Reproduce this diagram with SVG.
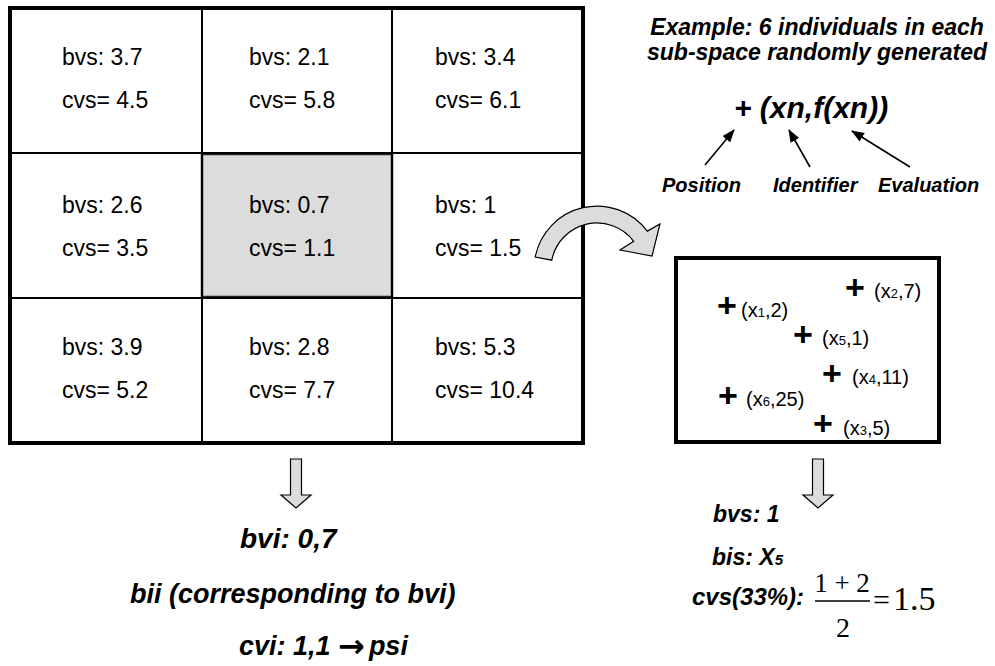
<svg xmlns="http://www.w3.org/2000/svg" width="995" height="666" viewBox="0 0 995 666">
<style>
.cell{font-family:"Liberation Sans",Arial,sans-serif;font-size:23px;fill:#000}
.bi{font-family:"Liberation Sans",Arial,sans-serif;font-weight:bold;font-style:italic;fill:#000}
.pt{font-family:"Liberation Sans",Arial,sans-serif;font-size:20px;fill:#000}
.sub{font-size:13px}
.plus{font-family:"Liberation Sans",Arial,sans-serif;font-size:34px;font-weight:bold;text-anchor:middle;fill:#000}
.math{font-family:"Liberation Serif","Times New Roman",serif;fill:#000}
.blk{fill:#dcdcdc;stroke:#000;stroke-width:1.2;stroke-linejoin:miter}
.gl{stroke:#000;stroke-width:2;fill:none}
.ptr{stroke:#000;stroke-width:1.6;marker-end:url(#ah)}
</style>
<defs>
<marker id="ah" markerWidth="13" markerHeight="10" refX="12" refY="5" orient="auto" markerUnits="userSpaceOnUse"><path d="M0,0 L13,5 L0,10 Z" fill="#000"/></marker>
</defs>
<rect width="995" height="666" fill="#fff"/>

<g id="grid">
<rect x="202" y="154" width="190" height="143" fill="#dcdcdc" stroke="#222" stroke-width="2.5"/>
<line class="gl" x1="202" y1="8" x2="202" y2="443"/>
<line class="gl" x1="392" y1="8" x2="392" y2="443"/>
<line class="gl" x1="10" y1="153" x2="583" y2="153"/>
<line class="gl" x1="10" y1="298" x2="583" y2="298"/>
<rect x="10" y="8" width="573" height="435" fill="none" stroke="#000" stroke-width="4"/>
</g>

<g id="cell-1-1"><text class="cell" x="62" y="65">bvs: 3.7</text><text class="cell" x="62" y="108">cvs= 4.5</text></g>
<g id="cell-1-2"><text class="cell" x="249" y="65">bvs: 2.1</text><text class="cell" x="249" y="108">cvs= 5.8</text></g>
<g id="cell-1-3"><text class="cell" x="435" y="65">bvs: 3.4</text><text class="cell" x="435" y="108">cvs= 6.1</text></g>
<g id="cell-2-1"><text class="cell" x="62" y="213">bvs: 2.6</text><text class="cell" x="62" y="256">cvs= 3.5</text></g>
<g id="cell-2-2"><text class="cell" x="249" y="213">bvs: 0.7</text><text class="cell" x="249" y="256">cvs= 1.1</text></g>
<g id="cell-2-3"><text class="cell" x="435" y="213">bvs: 1</text><text class="cell" x="435" y="256">cvs= 1.5</text></g>
<g id="cell-3-1"><text class="cell" x="62" y="355">bvs: 3.9</text><text class="cell" x="62" y="398">cvs= 5.2</text></g>
<g id="cell-3-2"><text class="cell" x="249" y="355">bvs: 2.8</text><text class="cell" x="249" y="398">cvs= 7.7</text></g>
<g id="cell-3-3"><text class="cell" x="435" y="355">bvs: 5.3</text><text class="cell" x="435" y="398">cvs= 10.4</text></g>

<g id="header">
<text class="bi" font-size="23" text-anchor="middle" x="817" y="35">Example: 6 individuals in each</text>
<text class="bi" font-size="23" text-anchor="middle" x="817" y="60">sub-space randomly generated</text>
<text class="bi" font-size="30" x="734" y="118">+ (xn,f(xn))</text>
</g>

<g id="labels">
<text class="bi" font-size="20" x="662" y="192">Position</text>
<text class="bi" font-size="20" x="773" y="192">Identifier</text>
<text class="bi" font-size="20" x="878" y="192">Evaluation</text>
</g>

<g id="subspace">
<rect x="676" y="258" width="263" height="184" fill="#fff" stroke="#000" stroke-width="4"/>
<g id="ind-1"><text class="plus" x="727" y="317">+</text><text class="pt" x="741" y="317">(x<tspan class="sub">1</tspan>,2)</text></g>
<g id="ind-2"><text class="plus" x="855" y="299">+</text><text class="pt" x="874" y="298">(x<tspan class="sub">2</tspan>,7)</text></g>
<g id="ind-5"><text class="plus" x="803" y="346">+</text><text class="pt" x="822" y="345">(x<tspan class="sub">5</tspan>,1)</text></g>
<g id="ind-4"><text class="plus" x="832" y="385">+</text><text class="pt" x="852" y="384">(x<tspan class="sub">4</tspan>,11)</text></g>
<g id="ind-6"><text class="plus" x="728" y="407">+</text><text class="pt" x="746" y="406">(x<tspan class="sub">6</tspan>,25)</text></g>
<g id="ind-3"><text class="plus" x="823" y="435">+</text><text class="pt" x="843" y="435">(x<tspan class="sub">3</tspan>,5)</text></g>
</g>

<g id="result-left">
<text class="bi" font-size="28" x="240" y="548">bvi: 0,7</text>
<text class="bi" font-size="27" x="130" y="603">bii (corresponding to bvi)</text>
<text class="bi" font-size="27" x="239" y="655">cvi: 1,1 <tspan font-family="DejaVu Sans" font-weight="bold" font-style="normal" font-size="32" dy="2">→</tspan><tspan dx="4" dy="-2">psi</tspan></text>
</g>

<g id="result-right">
<text class="bi" font-size="23" x="713" y="522">bvs: 1</text>
<text class="bi" font-size="23" x="712" y="565">bis: X<tspan font-size="15">5</tspan></text>
<text class="bi" font-size="24" x="692" y="605">cvs(33%):</text>
<text class="math" font-size="27" text-anchor="middle" x="842" y="592">1 + 2</text>
<line x1="815" y1="601" x2="870" y2="601" stroke="#000" stroke-width="1.5"/>
<text class="math" font-size="28" text-anchor="middle" x="843" y="637">2</text>
<text class="math" font-size="30" x="873" y="610">=</text>
<text class="math" font-size="34" x="893" y="610">1.5</text>
</g>

<g id="connectors">
<path class="blk" d="M535.2,257 A63,63 0 0 1 647.3,231.1 L660,224 L652,256 L620,250 L633.7,241.3 A46,46 0 0 0 551.8,260.2 Z"/>
<path class="blk" d="M290.5,459 H301.5 V495 H311 L296,508 L281,495 H290.5 Z"/>
<path class="blk" d="M812.5,459 H823.5 V495 H833 L818,508 L803,495 H812.5 Z"/>
<line class="ptr" x1="705" y1="165" x2="734" y2="130"/>
<line class="ptr" x1="810" y1="167" x2="789" y2="130"/>
<line class="ptr" x1="910" y1="167" x2="852" y2="131"/>
</g>
</svg>
